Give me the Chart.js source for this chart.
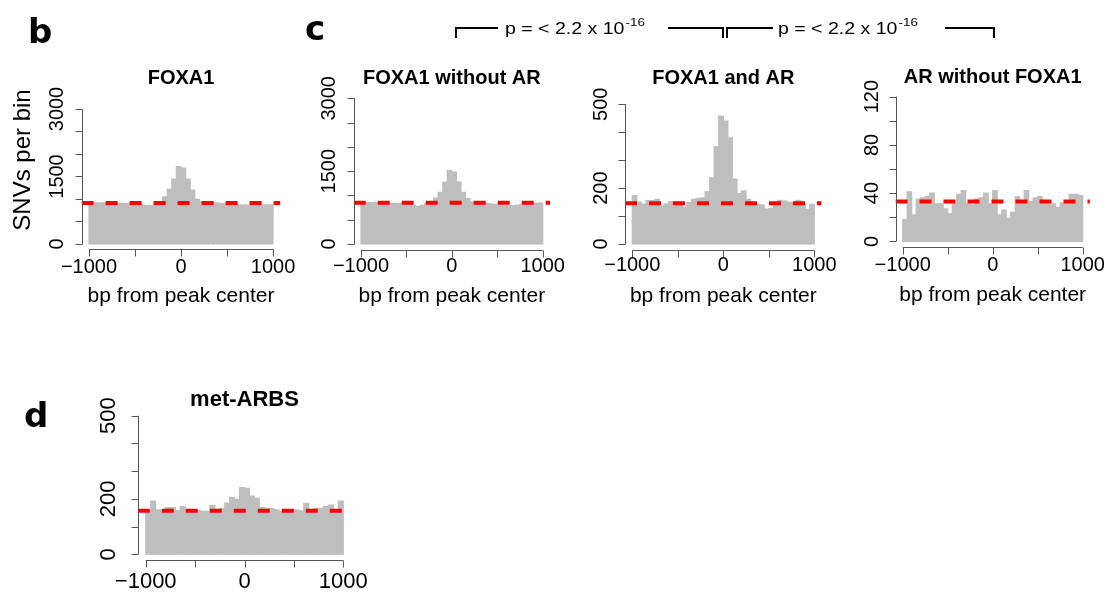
<!DOCTYPE html>
<html>
<head>
<meta charset="utf-8">
<script src="https://cdn.jsdelivr.net/npm/chart.js@4.4.1/dist/chart.umd.min.js"></script>
<style>
  html, body { margin: 0; padding: 0; background: #ffffff; }
  #wrap { position: relative; width: 1118px; height: 592px; overflow: hidden; background: #ffffff; }
  #wrap canvas { position: absolute; left: 0; top: 0; }
</style>
</head>
<body>
<div id="wrap">
  <canvas id="pb" width="1118" height="592"></canvas>
  <canvas id="pc1" width="1118" height="592"></canvas>
  <canvas id="pc2" width="1118" height="592"></canvas>
  <canvas id="pc3" width="1118" height="592"></canvas>
  <canvas id="pd" width="1118" height="592"></canvas>
</div>
<script>
// 40 bins of 50 bp, centres
const binCenters = [-975, -925, -875, -825, -775, -725, -675, -625, -575, -525,
  -475, -425, -375, -325, -275, -225, -175, -125, -75, -25,
  25, 75, 125, 175, 225, 275, 325, 375, 425, 475,
  525, 575, 625, 675, 725, 775, 825, 875, 925, 975];

// SNVs per bin
const foxa1 = [915, 915, 912, 910, 908, 905, 905, 905, 900, 895, 885, 870, 855, 855, 880, 920,
  1050, 1215, 1440, 1720, 1685, 1440, 1200, 990,
  945, 935, 925, 915, 905, 900, 880, 870, 868, 865, 865, 865, 867, 868, 870, 870];
const foxa1NoAr = [855, 852, 850, 848, 845, 840, 838, 835, 830, 825, 815, 800, 775, 795, 820, 870,
  945, 1065, 1270, 1515, 1480, 1280, 1065, 935,
  870, 855, 845, 835, 825, 815, 805, 795, 790, 790, 800, 815, 830, 835, 838, 840];
const foxa1AndAr = [173, 150, 143, 155, 155, 160, 137, 143, 152, 150, 140, 132, 148, 160, 163, 165,
  187, 237, 348, 458, 440, 380, 232, 180,
  190, 160, 146, 142, 140, 125, 128, 142, 156, 154, 149, 150, 156, 142, 124, 142];
const arNoFoxa1 = [18, 41, 22, 35, 36, 37, 40, 31, 31, 27, 23, 31, 39, 42, 31, 30, 35, 36, 40, 31,
  42, 22, 26, 19, 24, 37, 31, 42, 33, 36, 37, 31, 31, 31, 28, 32, 33, 39, 39, 38];
const metArbs = [154, 192, 160, 158, 168, 168, 157, 172, 162, 154, 158, 155, 155, 176, 162, 166,
  185, 205, 198, 241, 238, 210, 202, 168,
  166, 165, 160, 154, 151, 160, 160, 157, 184, 150, 166, 166, 172, 177, 148, 192];

// dashed reference levels
const foxa1Ref = 910;
const foxa1NoArRef = 848;
const foxa1AndArRef = 146;
const arNoFoxa1Ref = 33;
const metArbsRef = 157;

// axis ticks
const xTicks = [-1000, -500, 0, 500, 1000];
const xTickLabels = ['\u22121000', '', '0', '', '1000'];
const ticks3000 = [0, 500, 1000, 1500, 2000, 2500, 3000];
const labels3000 = ['0', '', '', '1500', '', '', '3000'];
const ticks500 = [0, 100, 200, 300, 400, 500];
const labels500 = ['0', '', '200', '', '', '500'];
const ticks120 = [0, 20, 40, 60, 80, 100, 120];
const labels120 = ['0', '', '40', '', '80', '', '120'];

const FONT = '"Liberation Sans", Arial, sans-serif';

// R-style axes: line only from first to last tick, labels parallel to the axis
const rAxes = {
  id: 'rAxes',
  afterDraw(chart, args, o) {
    const { ctx, chartArea: a } = chart;
    const x = chart.scales.x, y = chart.scales.y;
    ctx.save();
    ctx.strokeStyle = '#555';
    ctx.lineWidth = 1;
    ctx.fillStyle = '#000';

    // x axis
    const yb = Math.round(a.bottom) + 0.5;
    ctx.beginPath();
    ctx.moveTo(x.getPixelForValue(xTicks[0]), yb);
    ctx.lineTo(x.getPixelForValue(xTicks[xTicks.length - 1]), yb);
    xTicks.forEach(v => {
      const px = Math.round(x.getPixelForValue(v)) + 0.5;
      ctx.moveTo(px, yb);
      ctx.lineTo(px, yb + 7);
    });
    // y axis
    const xl = Math.round(a.left) + 0.5;
    ctx.moveTo(xl, y.getPixelForValue(o.yTicks[0]));
    ctx.lineTo(xl, y.getPixelForValue(o.yTicks[o.yTicks.length - 1]));
    o.yTicks.forEach(v => {
      const py = Math.round(y.getPixelForValue(v)) + 0.5;
      ctx.moveTo(xl, py);
      ctx.lineTo(xl - 7, py);
    });
    ctx.stroke();

    // tick labels
    ctx.font = o.tickFont + 'px ' + FONT;
    ctx.textAlign = 'center';
    ctx.textBaseline = 'alphabetic';
    xTicks.forEach((v, i) => {
      if (xTickLabels[i]) ctx.fillText(xTickLabels[i], x.getPixelForValue(v), o.tickBase);
    });
    o.yTicks.forEach((v, i) => {
      if (!o.yLabels[i]) return;
      ctx.save();
      ctx.translate(a.left - o.yLabGap, y.getPixelForValue(v));
      ctx.rotate(-Math.PI / 2);
      ctx.fillText(o.yLabels[i], 0, 0);
      ctx.restore();
    });

    const cx = (a.left + a.right) / 2;
    // title
    ctx.font = 'bold ' + o.titleFont + 'px ' + FONT;
    ctx.fillText(o.title, cx, o.titleBase);
    // x title
    if (o.xTitle) {
      ctx.font = o.xTitleFont + 'px ' + FONT;
      ctx.fillText('bp from peak center', cx, o.xTitleBase);
    }
    // y title
    if (o.yTitle) {
      ctx.font = '24px ' + FONT;
      ctx.save();
      ctx.translate(30, 160);
      ctx.rotate(-Math.PI / 2);
      ctx.fillText('SNVs per bin', 0, 0);
      ctx.restore();
    }
    ctx.restore();
  }
};

// panel letters and p-value brackets
const figureMarks = {
  id: 'figureMarks',
  afterDraw(chart) {
    const ctx = chart.ctx;
    ctx.save();
    ctx.fillStyle = '#000';
    ctx.font = 'bold 34px "DejaVu Sans", sans-serif';
    ctx.textAlign = 'left';
    ctx.fillText('b', 28, 43);
    ctx.fillText('c', 305, 40);
    ctx.fillText('d', 24, 427);

    ctx.strokeStyle = '#000';
    ctx.lineWidth = 2;
    ctx.beginPath();
    ctx.moveTo(456, 38); ctx.lineTo(456, 28); ctx.lineTo(498, 28);
    ctx.moveTo(668, 28); ctx.lineTo(723, 28); ctx.lineTo(723, 38);
    ctx.moveTo(727, 38); ctx.lineTo(727, 28); ctx.lineTo(773, 28);
    ctx.moveTo(945, 28); ctx.lineTo(994, 28); ctx.lineTo(994, 38);
    ctx.stroke();

    [505, 778].forEach(x0 => {
      ctx.save();
      ctx.translate(x0, 0);
      ctx.scale(1.22, 1);
      ctx.font = '16px ' + FONT;
      ctx.fillText('p = < 2.2 x 10', 0, 34);
      const w = ctx.measureText('p = < 2.2 x 10').width;
      ctx.font = '11px ' + FONT;
      ctx.fillText('-16', w + 1, 26);
      ctx.restore();
    });
    ctx.restore();
  }
};

const panels = [
  { id: 'pb', values: foxa1, ref: foxa1Ref, yMax: 3000, yTicks: ticks3000, yLabels: labels3000,
    title: 'FOXA1', area: { l: 81.6, t: 103.6, r: 280.4, b: 249.4 },
    titleFont: 20, titleBase: 84, tickFont: 20, tickBase: 273, yLabGap: 18.6,
    xTitle: true, xTitleFont: 21, xTitleBase: 302, yTitle: true, extra: [figureMarks] },
  { id: 'pc1', values: foxa1NoAr, ref: foxa1NoArRef, yMax: 3000, yTicks: ticks3000, yLabels: labels3000,
    title: 'FOXA1 without AR', area: { l: 353.7, t: 92.5, r: 550, b: 249.8 },
    titleFont: 20, titleBase: 84, tickFont: 20, tickBase: 272, yLabGap: 18.6,
    xTitle: true, xTitleFont: 21, xTitleBase: 302 },
  { id: 'pc2', values: foxa1AndAr, ref: foxa1AndArRef, yMax: 500, yTicks: ticks500, yLabels: labels500,
    title: 'FOXA1 and AR', area: { l: 625, t: 98.7, r: 821.6, b: 249.6 },
    titleFont: 20, titleBase: 84, tickFont: 20, tickBase: 271, yLabGap: 18.3,
    xTitle: true, xTitleFont: 21, xTitleBase: 302 },
  { id: 'pc3', values: arNoFoxa1, ref: arNoFoxa1Ref, yMax: 120, yTicks: ticks120, yLabels: labels120,
    title: 'AR without FOXA1', area: { l: 895.5, t: 90.9, r: 1089.9, b: 247.1 },
    titleFont: 20, titleBase: 83, tickFont: 20, tickBase: 271, yLabGap: 17.5,
    xTitle: true, xTitleFont: 21, xTitleBase: 301 },
  { id: 'pd', values: metArbs, ref: metArbsRef, yMax: 500, yTicks: ticks500, yLabels: labels500,
    title: 'met-ARBS', area: { l: 137.8, t: 410.2, r: 351.2, b: 559.8 },
    titleFont: 22, titleBase: 406, tickFont: 22, tickBase: 588, yLabGap: 22.5,
    xTitle: false }
];

panels.forEach(p => {
  const ctx = document.getElementById(p.id).getContext('2d');
  new Chart(ctx, {
    type: 'bar',
    data: {
      datasets: [
        {
          type: 'line',
          data: [{ x: -1080, y: p.ref }, { x: 1080, y: p.ref }],
          borderColor: '#ff0000',
          borderWidth: 4,
          borderDash: [12, 12],
          pointRadius: 0,
          order: 1
        },
        {
          data: binCenters.map((c, i) => ({ x: c, y: p.values[i] })),
          backgroundColor: '#bebebe',
          borderWidth: 0,
          barPercentage: 1,
          categoryPercentage: 1,
          inflateAmount: 0.6,
          order: 2
        }
      ]
    },
    options: {
      responsive: false,
      animation: false,
      devicePixelRatio: 1,
      layout: {
        padding: { left: p.area.l, top: p.area.t, right: 1118 - p.area.r, bottom: 592 - p.area.b }
      },
      scales: {
        x: { type: 'linear', min: -1080, max: 1080, offset: false, display: false },
        y: { type: 'linear', min: -0.04 * p.yMax, max: 1.04 * p.yMax, display: false }
      },
      plugins: {
        legend: { display: false },
        tooltip: { enabled: false },
        rAxes: {
          yTicks: p.yTicks, yLabels: p.yLabels, title: p.title,
          titleFont: p.titleFont, titleBase: p.titleBase,
          tickFont: p.tickFont, tickBase: p.tickBase, yLabGap: p.yLabGap,
          xTitle: p.xTitle, xTitleFont: p.xTitleFont, xTitleBase: p.xTitleBase,
          yTitle: !!p.yTitle
        }
      }
    },
    plugins: [rAxes].concat(p.extra || [])
  });
});
</script>
</body>
</html>
